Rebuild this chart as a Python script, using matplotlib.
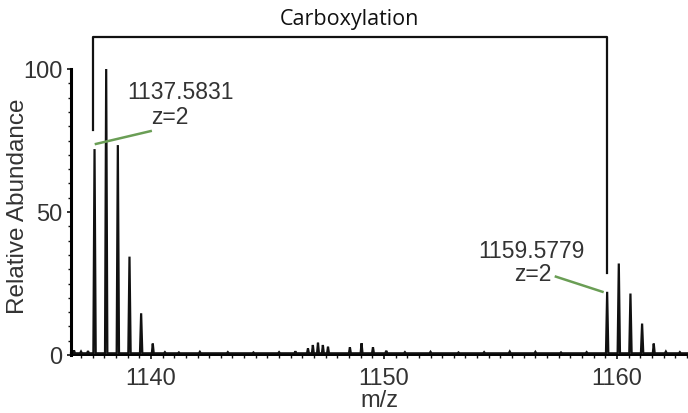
#!/usr/bin/env python3
"""Mass spectrum of a carboxylated peptide pair (z=2), 1137.58 -> 1159.58 m/z."""
import matplotlib
matplotlib.use("Agg")
import matplotlib.pyplot as plt
from matplotlib.ticker import MultipleLocator

INK, GREY, GREEN = "#111111", "#333333", "#6a9e55"
plt.rcParams["font.family"] = ["Liberation Sans", "DejaVu Sans"]

# isotope envelopes (m/z, relative abundance)
PEAK_MZ = [1137.58, 1138.08, 1138.58, 1139.08, 1139.58, 1140.08,
           1146.74, 1146.95, 1147.17, 1147.38, 1147.60, 1148.54, 1149.04, 1149.53,
           1159.58, 1160.08, 1160.58, 1161.08, 1161.58]
PEAK_INT = [72, 100, 73.4, 34.4, 14.6, 4.0,
            2.3, 3.5, 4.3, 3.5, 2.9, 2.7, 4.1, 2.7,
            22.1, 32.0, 21.5, 11.0, 4.0]
# baseline noise blips
NOISE_MZ = [1136.7, 1137.0, 1137.3, 1140.6, 1141.2, 1142.1, 1143.3, 1144.4, 1145.5,
            1146.2, 1150.1, 1150.9, 1152.0, 1153.2, 1154.3, 1155.4, 1156.5, 1157.6,
            1158.7, 1162.1, 1162.7]
NOISE_INT = [1.6, 1.2, 1.4, 1.0, 0.9, 1.1, 1.0, 0.9, 1.0,
             1.3, 1.5, 1.0, 1.1, 0.9, 1.0, 1.2, 1.1, 0.9,
             1.0, 1.2, 1.0]
BASE = 0.6

LABELS = [("1137.5831", "z=2"), ("1159.5779", "z=2")]
LABEL_XY = [(1141.29, 91.8), (1156.31, 36.2)]
Z_XY = [(1140.82, 83.0), (1156.39, 28.2)]
LEADERS = [((1137.64, 73.8), (1139.99, 78.3)), ((1157.38, 27.4), (1159.38, 22.1))]
BRACKET = dict(left=1137.50, right=1159.56, top=111.3, left_bottom=78.7, right_bottom=28.7)

fig = plt.figure(figsize=(6.88, 4.13), dpi=100)
ax = fig.add_axes([0.1032, 0.1404, 0.8968, 0.6925])

# build a continuous profile from sticks (narrow triangles on a baseline)
sticks = sorted(list(zip(PEAK_MZ, PEAK_INT)) + list(zip(NOISE_MZ, NOISE_INT)))
xs, ys = [1136.57], [BASE]
for mz, h in sticks:
    w = 0.05 if h > 5 else 0.04
    xs += [mz - w, mz, mz + w]
    ys += [BASE, h, BASE]
xs.append(1163.05); ys.append(BASE)
ax.plot(xs, ys, color=INK, lw=1.6, solid_joinstyle="miter", clip_on=False)

# carboxylation bracket
b = BRACKET
ax.plot([b["left"], b["left"], b["right"], b["right"]],
        [b["left_bottom"], b["top"], b["top"], b["right_bottom"]],
        color=INK, lw=1.6, clip_on=False)
ax.text((b["left"] + b["right"]) / 2, b["top"] + 2.5, "Carboxylation",
        ha="center", va="bottom", fontsize=15.5, color=INK,
        family=["Open Sans", "DejaVu Sans"])

for (num, z), (lx, ly), (zx, zy), ((x0, y0), (x1, y1)) in zip(LABELS, LABEL_XY, Z_XY, LEADERS):
    ax.text(lx, ly, num, ha="center", va="center", fontsize=16.5, color=GREY)
    ax.text(zx, zy, z, ha="center", va="center", fontsize=16.5, color=GREY)
    ax.plot([x0, x1], [y0, y1], color=GREEN, lw=1.8, clip_on=False)

ax.set_xlim(1136.57, 1163.05)
ax.set_ylim(0, 100)
ax.set_xticks([1140, 1150, 1160])
ax.set_yticks([0, 50, 100])
ax.xaxis.set_minor_locator(MultipleLocator(0.5))
ax.yaxis.set_minor_locator(MultipleLocator(5))
ax.tick_params(axis="both", which="major", labelsize=17, labelcolor=GREY,
               length=3, width=1.2, color=INK)
ax.tick_params(axis="x", which="major", pad=6)
ax.tick_params(axis="y", which="major", pad=3)
ax.tick_params(axis="both", which="minor", length=2, width=1, color=INK)
ax.set_xlabel("m/z", fontsize=17, color=GREY, labelpad=0)
ax.set_ylabel("Relative Abundance", fontsize=17.5, color=GREY)
ax.yaxis.set_label_coords(-0.068, 0.52)

for sp in ("top", "right"):
    ax.spines[sp].set_visible(False)
ax.spines["left"].set_linewidth(2.2)
ax.spines["bottom"].set_linewidth(1.4)
ax.patch.set_alpha(0)

fig.savefig("out.png", dpi=100)
print("saved out.png")
